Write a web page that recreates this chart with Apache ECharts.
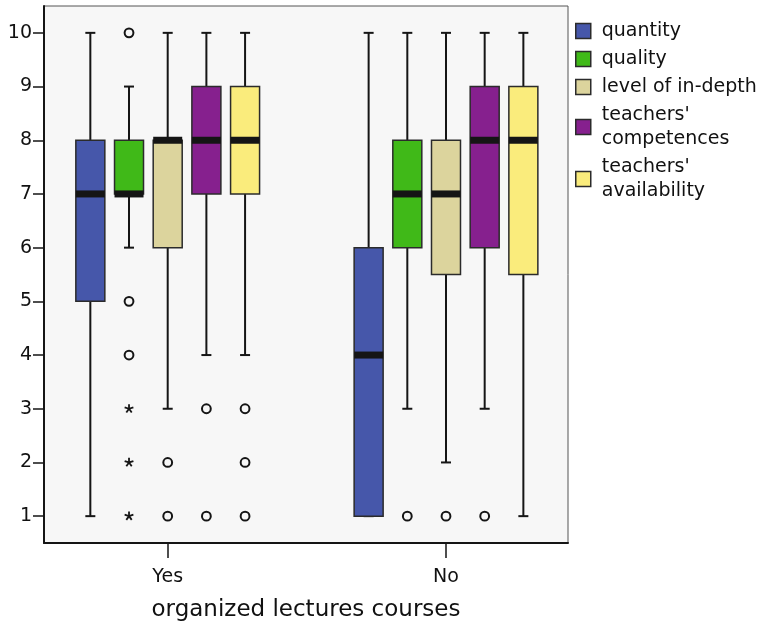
<!DOCTYPE html>
<html>
<head>
<meta charset="utf-8">
<script src="https://cdn.jsdelivr.net/npm/echarts@6/dist/echarts.min.js"></script>
<style>
  html, body { margin: 0; padding: 0; background: #ffffff; }
  #chart { width: 768px; height: 624px; }
</style>
</head>
<body>
<div id="chart"></div>
<script>
// Groups on the x axis and the rated aspects
const groups = ['Yes', 'No'];
const aspectNames = ['quantity', 'quality', 'level of in-depth', "teachers'\ncompetences", "teachers'\navailability"];
const aspectColors = ['#4657aa', '#40b918', '#dcd49d', '#86208e', '#faec7c'];
const yTicks = [1, 2, 3, 4, 5, 6, 7, 8, 9, 10];

// Five-number summaries per group: [min whisker, Q1, median, Q3, max whisker]
const quantity     = [[1, 5, 7, 8, 10], [1, 1, 4, 6, 10]];
const quality      = [[6, 7, 7, 8, 9], [3, 6, 7, 8, 10]];
const levelInDepth = [[3, 6, 8, 8, 10], [2, 5.5, 7, 8, 10]];
const competences  = [[4, 7, 8, 9, 10], [3, 6, 8, 9, 10]];
const availability = [[4, 7, 8, 9, 10], [1, 5.5, 8, 9, 10]];

// Outliers (circles) and extreme values (stars): [group index, value]
const quantityOutliers     = [];
const qualityOutliers      = [[0, 10], [0, 5], [0, 4], [1, 1]];
const levelOutliers        = [[0, 2], [0, 1], [1, 1]];
const competencesOutliers  = [[0, 3], [0, 1], [1, 1]];
const availabilityOutliers = [[0, 3], [0, 2], [0, 1]];

const quantityExtremes     = [];
const qualityExtremes      = [[0, 3], [0, 2], [0, 1]];
const levelExtremes        = [];
const competencesExtremes  = [];
const availabilityExtremes = [];

const summaries = [quantity, quality, levelInDepth, competences, availability];
const outliers = [quantityOutliers, qualityOutliers, levelOutliers, competencesOutliers, availabilityOutliers];
const extremes = [quantityExtremes, qualityExtremes, levelExtremes, competencesExtremes, availabilityExtremes];

// Layout of the boxes inside a group (in x-axis units / pixels)
const boxStep = 0.139;
const boxWidth = 29;
const capWidth = 10;
const medianHeight = 7;
const FONT = 'DejaVu Sans';

function xPos(group, k) {
  return group + (k - 2) * boxStep;
}

function boxRenderer(k) {
  return function (params, api) {
    const x = xPos(api.value(0), k);
    const pMin = api.coord([x, api.value(1)]);
    const pQ1 = api.coord([x, api.value(2)]);
    const pMed = api.coord([x, api.value(3)]);
    const pQ3 = api.coord([x, api.value(4)]);
    const pMax = api.coord([x, api.value(5)]);
    const cx = pMin[0];
    const half = boxWidth / 2;
    const color = api.visual('color');
    const lineStyle = { stroke: '#151515', lineWidth: 2 };
    return {
      type: 'group',
      children: [
        { type: 'line', shape: { x1: cx, y1: pMax[1], x2: cx, y2: pQ3[1] }, style: lineStyle },
        { type: 'line', shape: { x1: cx, y1: pQ1[1], x2: cx, y2: pMin[1] }, style: lineStyle },
        { type: 'line', shape: { x1: cx - capWidth / 2, y1: pMax[1], x2: cx + capWidth / 2, y2: pMax[1] }, style: lineStyle },
        { type: 'line', shape: { x1: cx - capWidth / 2, y1: pMin[1], x2: cx + capWidth / 2, y2: pMin[1] }, style: lineStyle },
        {
          type: 'rect',
          shape: { x: cx - half, y: pQ3[1], width: boxWidth, height: pQ1[1] - pQ3[1] },
          style: { fill: color, stroke: '#2b2b2b', lineWidth: 1.5 }
        },
        {
          type: 'rect',
          shape: { x: cx - half, y: pMed[1] - medianHeight / 2, width: boxWidth, height: medianHeight },
          style: { fill: '#151515' }
        }
      ]
    };
  };
}

function circleRenderer(k) {
  return function (params, api) {
    const p = api.coord([xPos(api.value(0), k), api.value(1)]);
    return {
      type: 'circle',
      shape: { cx: p[0], cy: p[1], r: 4.4 },
      style: { fill: 'none', stroke: '#151515', lineWidth: 2 }
    };
  };
}

function starRenderer(k) {
  return function (params, api) {
    const p = api.coord([xPos(api.value(0), k), api.value(1)]);
    const arms = [];
    for (let i = 0; i < 5; i++) {
      const a = -Math.PI / 2 + i * 2 * Math.PI / 5;
      arms.push({
        type: 'line',
        shape: { x1: p[0], y1: p[1], x2: p[0] + 4.6 * Math.cos(a), y2: p[1] + 4.6 * Math.sin(a) },
        style: { stroke: '#151515', lineWidth: 1.8 }
      });
    }
    return { type: 'group', children: arms };
  };
}

const series = [];
aspectNames.forEach(function (name, k) {
  series.push({
    name: name,
    type: 'custom',
    renderItem: boxRenderer(k),
    itemStyle: { color: aspectColors[k] },
    encode: { x: 0, y: [1, 2, 3, 4, 5] },
    data: summaries[k].map(function (s, g) { return [g + 1].concat(s); }),
    z: 2
  });
  series.push({
    name: name,
    type: 'custom',
    renderItem: circleRenderer(k),
    itemStyle: { color: aspectColors[k] },
    encode: { x: 0, y: 1 },
    data: outliers[k].map(function (o) { return [o[0] + 1, o[1]]; }),
    z: 3
  });
  series.push({
    name: name,
    type: 'custom',
    renderItem: starRenderer(k),
    itemStyle: { color: aspectColors[k] },
    encode: { x: 0, y: 1 },
    data: extremes[k].map(function (o) { return [o[0] + 1, o[1]]; }),
    z: 3
  });
});

const chart = echarts.init(document.getElementById('chart'), null, { renderer: 'canvas' });
chart.setOption({
  animation: false,
  backgroundColor: '#ffffff',
  textStyle: { fontFamily: FONT },
  grid: {
    left: 44, top: 6, right: 200, bottom: 81,
    outerBoundsMode: 'none',
    show: true, backgroundColor: '#f7f7f7', borderColor: '#555555', borderWidth: 1
  },
  legend: {
    orient: 'vertical',
    left: 570, top: 14,
    itemWidth: 15, itemHeight: 15, itemGap: 4,
    selectedMode: false,
    textStyle: { fontFamily: FONT, fontSize: 19, lineHeight: 24, color: '#111111', padding: [0, 0, 0, 6] },
    data: aspectNames.map(function (n, k) {
      return {
        name: n, icon: 'rect',
        itemStyle: { color: aspectColors[k], borderColor: '#2b2b2b', borderWidth: 1.5 }
      };
    })
  },
  xAxis: {
    type: 'value',
    min: 0.5555, max: 2.4384,
    splitLine: { show: false },
    axisLine: { show: true, lineStyle: { color: '#151515', width: 2 } },
    axisTick: { show: true, length: 15, customValues: [1, 2], lineStyle: { color: '#151515', width: 1.5 } },
    axisLabel: {
      customValues: [1, 2], margin: 25, fontSize: 19, color: '#111111', fontFamily: FONT,
      formatter: function (v) { return groups[Math.round(v) - 1]; }
    },
    name: 'organized lectures courses',
    nameLocation: 'middle', nameGap: 56,
    nameTextStyle: { fontSize: 23, color: '#111111', fontFamily: FONT }
  },
  yAxis: {
    type: 'value',
    min: 0.5, max: 10.5,
    splitLine: { show: false },
    axisLine: { show: true, lineStyle: { color: '#151515', width: 2 } },
    axisTick: { show: true, length: 11, customValues: yTicks, lineStyle: { color: '#151515', width: 1.5 } },
    axisLabel: { customValues: yTicks, margin: 12, fontSize: 19, color: '#111111', fontFamily: FONT }
  },
  series: series
});
</script>
</body>
</html>
